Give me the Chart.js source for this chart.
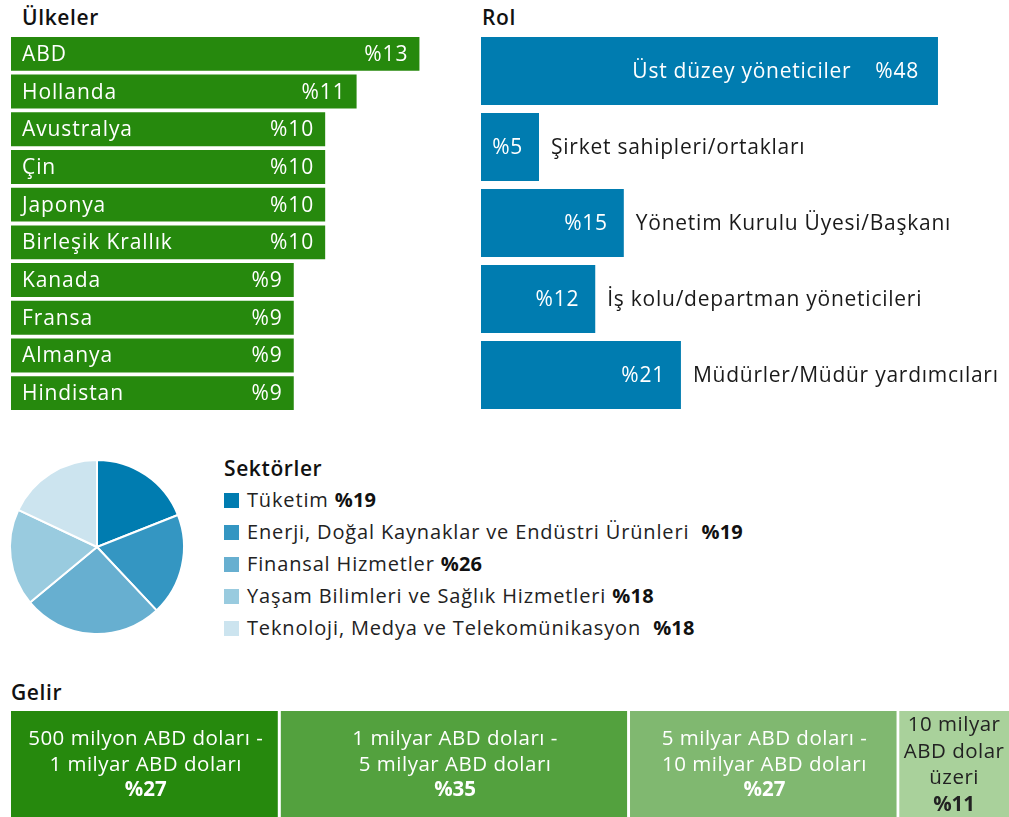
<!DOCTYPE html>
<html>
<head>
<meta charset="utf-8">
<script src="https://cdn.jsdelivr.net/npm/chart.js@4.4.1/dist/chart.umd.min.js"></script>
<style>
  html, body { margin: 0; padding: 0; background: #fff; }
  body { width: 1009px; height: 817px; position: relative; overflow: hidden; font-family: "Open Sans", sans-serif; color: #111; }
  .title { position: absolute; font-weight: 600; font-size: 21px; letter-spacing: 0.6px; line-height: 24px; color: #111; white-space: nowrap; }
  canvas { position: absolute; }
  #legend { position: absolute; left: 224px; top: 452px; }
  #legend .head { font-weight: 600; font-size: 21px; letter-spacing: 0.6px; line-height: 32px; height: 32px; color: #111; }
  #legend .item { position: relative; height: 32px; line-height: 32px; font-size: 20px; letter-spacing: 0.85px; color: #222; white-space: pre; }
  #legend .sw { position: absolute; left: 0; top: 9px; width: 15px; height: 15px; }
  #legend .tx { position: absolute; left: 23px; top: 0; }
  #legend b { font-weight: 700; color: #111; letter-spacing: 0.2px; }
</style>
</head>
<body>
<div class="title" style="left:22px; top:5px;">Ülkeler</div>
<div class="title" style="left:482px; top:5px;">Rol</div>
<div class="title" style="left:11px; top:680px;">Gelir</div>

<canvas id="cCountry" width="421" height="377" style="left:11px; top:35px;"></canvas>
<canvas id="cRole" width="528" height="380" style="left:481px; top:33px;"></canvas>
<canvas id="cSector" width="194" height="194" style="left:0px; top:450px;"></canvas>
<div id="legend"></div>
<canvas id="cRevenue" width="998" height="106" style="left:11px; top:711px;"></canvas>

<script>
// ---------- DATA ----------
const countryLabels = ["ABD", "Hollanda", "Avustralya", "Çin", "Japonya", "Birleşik Krallık", "Kanada", "Fransa", "Almanya", "Hindistan"];
const countryValues = [13, 11, 10, 10, 10, 10, 9, 9, 9, 9];

const roleLabels = ["Üst düzey yöneticiler", "Şirket sahipleri/ortakları", "Yönetim Kurulu Üyesi/Başkanı", "İş kolu/departman yöneticileri", "Müdürler/Müdür yardımcıları"];
const roleValues = [48, 5, 15, 12, 21];

const sectorLabels = ["Tüketim", "Enerji, Doğal Kaynaklar ve Endüstri Ürünleri ", "Finansal Hizmetler", "Yaşam Bilimleri ve Sağlık Hizmetleri", "Teknoloji, Medya ve Telekomünikasyon "];
const sectorValues = [19, 19, 26, 18, 18];

const revenueLabels = [
  ["500 milyon ABD doları -", "1 milyar ABD doları"],
  ["1 milyar ABD doları -", "5 milyar ABD doları"],
  ["5 milyar ABD doları -", "10 milyar ABD doları"],
  ["10 milyar", "ABD dolar", "üzeri"]
];
const revenueValues = [27, 35, 27, 11];

// ---------- STYLE ----------
const GREEN = "#26890d";
const BLUE = "#007cb0";
const sectorColors = ["#007cb0", "#3496c2", "#67afd0", "#99cbdf", "#cce4ef"];
const revenueColors = ["#26890d", "#53a13e", "#80b870", "#a9d19b"];
const revenueText = ["#ffffff", "#ffffff", "#ffffff", "#222222"];
const FONT = '"Open Sans", sans-serif';
const pct = v => "%" + v;

Chart.defaults.font.family = FONT;
const base = {
  responsive: false,
  animation: false,
  devicePixelRatio: 1,
  events: [],
  layout: { padding: 0 },
  plugins: { legend: { display: false }, tooltip: { enabled: false }, title: { display: false } }
};
function spacing(ctx, s) { if ("letterSpacing" in ctx) ctx.letterSpacing = s + "px"; }

// Countries
new Chart(document.getElementById("cCountry"), {
  type: "bar",
  data: { labels: countryLabels, datasets: [{ data: countryValues, backgroundColor: GREEN, borderWidth: 0, barPercentage: 0.9, categoryPercentage: 1 }] },
  options: Object.assign({}, base, {
    indexAxis: "y",
    scales: { x: { display: false, min: 0, max: 13.4 }, y: { display: false } }
  }),
  plugins: [{
    id: "countryText",
    afterDatasetsDraw(chart) {
      const ctx = chart.ctx;
      const meta = chart.getDatasetMeta(0);
      ctx.save();
      ctx.font = "21px " + FONT;
      spacing(ctx, 0.9);
      ctx.fillStyle = "#ffffff";
      ctx.textBaseline = "middle";
      meta.data.forEach((bar, i) => {
        ctx.textAlign = "left";
        ctx.fillText(countryLabels[i], bar.base + 11, bar.y + 1);
        ctx.textAlign = "right";
        ctx.fillText(pct(countryValues[i]), bar.x - 11, bar.y + 1);
      });
      ctx.restore();
    }
  }]
});

// Roles
new Chart(document.getElementById("cRole"), {
  type: "bar",
  data: { labels: roleLabels, datasets: [{ data: roleValues, backgroundColor: BLUE, borderWidth: 0, barPercentage: 0.895, categoryPercentage: 1, minBarLength: 58 }] },
  options: Object.assign({}, base, {
    indexAxis: "y",
    scales: { x: { display: false, min: 0, max: 55.46 }, y: { display: false } }
  }),
  plugins: [{
    id: "roleText",
    afterDatasetsDraw(chart) {
      const ctx = chart.ctx;
      const meta = chart.getDatasetMeta(0);
      ctx.save();
      ctx.font = "21px " + FONT;
      spacing(ctx, 0.75);
      ctx.textBaseline = "middle";
      meta.data.forEach((bar, i) => {
        const w = bar.x - bar.base;
        const vt = pct(roleValues[i]);
        const y = bar.y + 1;
        if (w > 300) {
          ctx.fillStyle = "#ffffff";
          ctx.textAlign = "right";
          ctx.fillText(vt, bar.x - 19, y);
          const vw = ctx.measureText(vt).width;
          ctx.fillText(roleLabels[i], bar.x - 19 - vw - 24, y);
        } else {
          ctx.fillStyle = "#ffffff";
          ctx.textAlign = "right";
          ctx.fillText(vt, bar.x - 16, y);
          ctx.fillStyle = "#1a1a1a";
          ctx.textAlign = "left";
          ctx.fillText(roleLabels[i], bar.x + 12, y);
        }
      });
      ctx.restore();
    }
  }]
});

// Sectors pie
new Chart(document.getElementById("cSector"), {
  type: "pie",
  data: { labels: sectorLabels, datasets: [{ data: sectorValues, backgroundColor: sectorColors, borderColor: "#ffffff", borderWidth: 2 }] },
  options: Object.assign({}, base, { radius: 87 })
});

// Legend (HTML text)
const lg = document.getElementById("legend");
let html = '<div class="head">Sektörler</div>';
sectorLabels.forEach((l, i) => {
  html += '<div class="item"><span class="sw" style="background:' + sectorColors[i] + '"></span><span class="tx">' + l + ' <b>' + pct(sectorValues[i]) + '</b></span></div>';
});
lg.innerHTML = html;

// Revenue stacked bar
new Chart(document.getElementById("cRevenue"), {
  type: "bar",
  data: {
    labels: ["Gelir"],
    datasets: revenueValues.map((v, i) => ({
      data: [v], backgroundColor: revenueColors[i], borderColor: "#ffffff",
      borderWidth: i < revenueValues.length - 1 ? { right: 3, left: 0, top: 0, bottom: 0 } : 0,
      borderSkipped: false, barPercentage: 1, categoryPercentage: 1
    }))
  },
  options: Object.assign({}, base, {
    indexAxis: "y",
    scales: { x: { display: false, stacked: true, min: 0, max: 100 }, y: { display: false, stacked: true } }
  }),
  plugins: [{
    id: "revText",
    afterDatasetsDraw(chart) {
      const ctx = chart.ctx;
      ctx.save();
      ctx.textAlign = "center";
      ctx.textBaseline = "middle";
      revenueValues.forEach((v, i) => {
        const bar = chart.getDatasetMeta(i).data[0];
        const cx = (bar.base + bar.x) / 2;
        const lines = revenueLabels[i].concat([pct(v)]);
        const lh = lines.length > 3 ? 26.5 : 25.5;
        const y0 = bar.y + 1 - (lines.length - 1) * lh / 2;
        ctx.fillStyle = revenueText[i];
        lines.forEach((t, k) => {
          const last = k === lines.length - 1;
          ctx.font = (last ? "bold " : "") + "20.5px " + FONT;
          spacing(ctx, last ? 0 : 0.5);
          ctx.fillText(t, cx, y0 + k * lh);
        });
      });
      ctx.restore();
    }
  }]
});
</script>
</body>
</html>
